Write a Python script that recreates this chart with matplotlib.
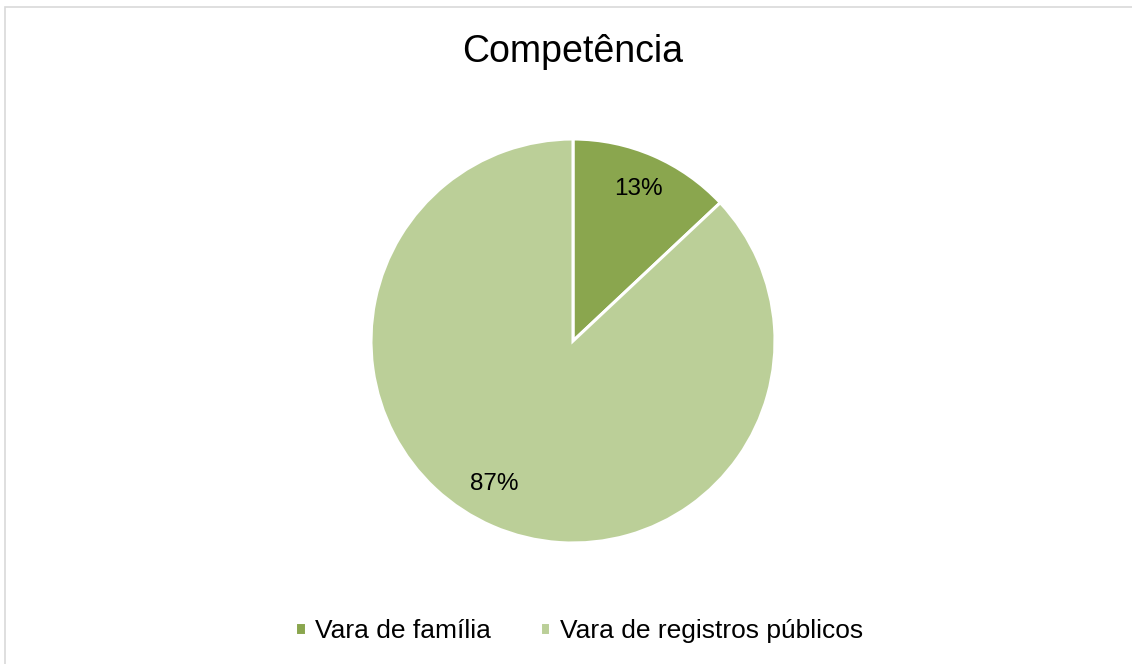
import matplotlib.pyplot as plt
from matplotlib.patches import Rectangle

# Data
labels = ['Vara de família', 'Vara de registros públicos']
values = [13, 87]
colors = ['#8AA64E', '#BBCF98']

plt.rcParams['font.family'] = ['Liberation Sans', 'DejaVu Sans']

fig = plt.figure(figsize=(11.32, 6.64), dpi=100)
fig.patches.append(Rectangle((5 / 1132, -0.01), 1.2, 1 - 7 / 664 + 0.01,
                             transform=fig.transFigure, fill=False,
                             edgecolor='#D9D9D9', linewidth=1.2))

ax = fig.add_axes([371 / 1132, 121 / 664, 404 / 1132, 404 / 664])
wedges, texts, autotexts = ax.pie(values, colors=colors, startangle=90, counterclock=False,
                                  autopct='%1.0f%%', pctdistance=0.82,
                                  wedgeprops=dict(edgecolor='white', linewidth=2.2),
                                  textprops=dict(fontsize=17.5, color='black'))
# Excel places the big slice label a bit further left
autotexts[1].set_position((-0.39, -0.71))
ax.set_xlim(-1, 1)
ax.set_ylim(-1, 1)
ax.set_aspect('equal')

fig.text(573 / 1132, 1 - 52 / 664, 'Competência', ha='center', va='center', fontsize=27)

fig.legend(wedges, labels, loc='center', bbox_to_anchor=(579 / 1132, 1 - 631 / 664),
           ncol=2, frameon=False, fontsize=19, handlelength=0.4, handleheight=0.4,
           handletextpad=0.35, columnspacing=1.85)

fig.savefig('out.png', dpi=100)
